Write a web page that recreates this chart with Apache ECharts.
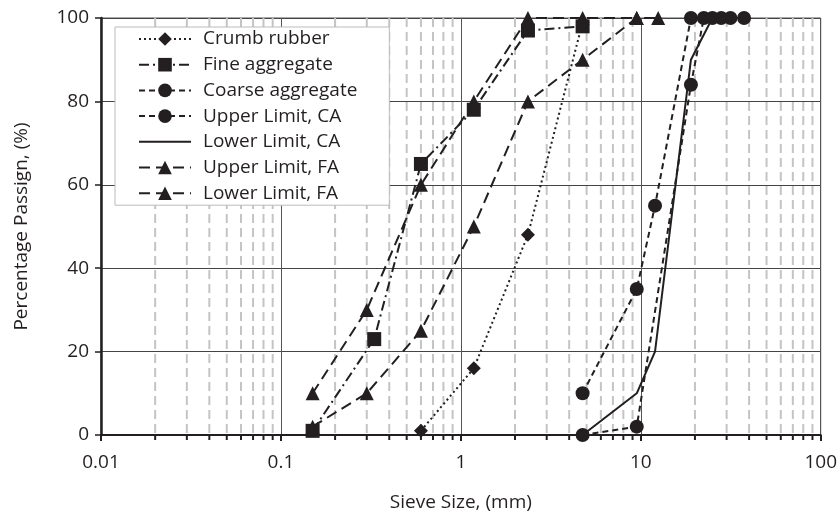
<!DOCTYPE html>
<html>
<head>
<meta charset="utf-8">
<script src="https://cdn.jsdelivr.net/npm/echarts@6/dist/echarts.min.js"></script>
<style>html,body{margin:0;padding:0;background:#fff}#c{width:840px;height:517px}</style>
</head>
<body>
<div id="c"></div>
<script>
// ---- data ----
const xTickLabels = ['0.01', '0.1', '1', '10', '100'];
const yTicks = [0, 20, 40, 60, 80, 100];
const minorSieve = [0.02,0.03,0.04,0.05,0.06,0.07,0.08,0.09,0.2,0.3,0.4,0.5,0.6,0.7,0.8,0.9,2,3,4,5,6,7,8,9,20,30,40,50,60,70,80,90];

const crumbSize = [0.6, 1.18, 2.36, 4.75];
const crumbPass = [1, 16, 48, 99];

const fineSize = [0.15, 0.33, 0.6, 1.18, 2.36, 4.75];
const finePass = [1, 23, 65, 78, 97, 98];

const coarseSize = [4.75, 9.5, 19, 22.4, 28, 37.5];
const coarsePass = [0, 2, 84, 100, 100, 100];

const upperCASize = [4.75, 9.5, 12, 19, 25, 31.5];
const upperCAPass = [10, 35, 55, 100, 100, 100];

const lowerCASize = [4.75, 9.5, 12, 19, 25];
const lowerCAPass = [0, 10, 20, 90, 100];

const upperFASize = [0.15, 0.3, 0.6, 1.18, 2.36, 4.75, 9.5];
const upperFAPass = [10, 30, 60, 80, 100, 100, 100];

const lowerFASize = [0.15, 0.3, 0.6, 1.18, 2.36, 4.75, 9.5, 12.5];
const lowerFAPass = [2, 10, 25, 50, 80, 90, 100, 100];

const seriesNames = ['Crumb rubber', 'Fine aggregate', 'Coarse aggregate', 'Upper Limit, CA', 'Lower Limit, CA', 'Upper Limit, FA', 'Lower Limit, FA'];

// ---- chart ----
const zip = (a, b) => a.map((v, i) => [v, b[i]]);
const INK = '#231f20';
const FONT = 'Open Sans';
const FS = 19;

function lineSeries(name, xs, ys, dash, symbol, size) {
  return {
    name, type: 'line', data: zip(xs, ys),
    symbol: symbol || 'none', symbolSize: size || 12,
    itemStyle: { color: INK },
    lineStyle: { color: INK, width: 2, type: dash },
    z: 3, silent: true, clip: false
  };
}

const legendData = seriesNames.map(n => n === 'Lower Limit, CA'
  ? { name: n, itemStyle: { color: 'rgba(0,0,0,0)', opacity: 0, borderWidth: 0 } }
  : { name: n });

const chart = echarts.init(document.getElementById('c'), null, { renderer: 'canvas' });
chart.setOption({
  animation: false,
  backgroundColor: '#fff',
  grid: { left: 101, right: 18, top: 18, bottom: 82, show: true, borderColor: '#555', borderWidth: 1 },
  xAxis: {
    type: 'log', logBase: 10, min: 0.01, max: 100,
    name: 'Sieve Size, (mm)', nameLocation: 'middle', nameGap: 58,
    nameTextStyle: { fontFamily: FONT, fontSize: FS, color: INK },
    axisLine: { onZero: false, lineStyle: { color: INK, width: 2 } },
    axisTick: { show: true, length: 6, lineStyle: { color: INK, width: 2 } },
    axisLabel: { margin: 18, fontFamily: FONT, fontSize: FS, color: INK,
      formatter: (v, i) => xTickLabels[i] },
    splitLine: { show: true, lineStyle: { color: '#555', width: 1 } }
  },
  yAxis: {
    type: 'value', min: 0, max: 100, interval: 20,
    name: 'Percentage Passign, (%)', nameLocation: 'middle', nameGap: 70,
    nameTextStyle: { fontFamily: FONT, fontSize: FS, color: INK },
    axisLine: { show: true, lineStyle: { color: INK, width: 2.5 } },
    axisTick: { show: true, length: 6, lineStyle: { color: INK, width: 1.5 } },
    axisLabel: { margin: 12, fontFamily: FONT, fontSize: FS, color: INK,
      formatter: v => String(yTicks[yTicks.indexOf(v)]) },
    splitLine: { show: true, lineStyle: { color: '#444', width: 1 } }
  },
  legend: {
    data: legendData,
    orient: 'vertical', left: 115, top: 27,
    backgroundColor: '#fff', borderColor: '#bbb', borderWidth: 1,
    padding: [1, 32, 1, 23],
    itemWidth: 52, itemHeight: 17, itemGap: 3.7,
    textStyle: { fontFamily: FONT, fontSize: FS, color: INK, lineHeight: 22, padding: [0, 0, 0, 7] },
    z: 10
  },
  series: [
    {
      type: 'custom', name: 'minor', silent: true, z: 1, clip: false,
      data: minorSieve.map(v => [v, 0]),
      encode: { x: 0, y: 1 },
      renderItem: (params, api) => {
        const v = api.value(0);
        const b = api.coord([v, 0]);
        const t = api.coord([v, 100]);
        return {
          type: 'group',
          children: [
            { type: 'line', shape: { x1: b[0], y1: t[1], x2: b[0], y2: b[1] },
              style: { stroke: '#c4c4c4', lineWidth: 2, lineDash: [9, 5] } },
            { type: 'line', shape: { x1: b[0], y1: b[1], x2: b[0], y2: b[1] + 5 },
              style: { stroke: INK, lineWidth: 2 } }
          ]
        };
      }
    },
    lineSeries(seriesNames[0], crumbSize, crumbPass, [2, 3], 'diamond', [14, 14]),
    lineSeries(seriesNames[1], fineSize, finePass, [10, 4, 2, 4], 'rect', 14),
    lineSeries(seriesNames[2], coarseSize, coarsePass, [6, 4], 'circle', 14),
    lineSeries(seriesNames[3], upperCASize, upperCAPass, [6, 4], 'circle', 14),
    lineSeries(seriesNames[4], lowerCASize, lowerCAPass, 'solid', 'none'),
    lineSeries(seriesNames[5], upperFASize, upperFAPass, [11, 6], 'triangle', 14),
    lineSeries(seriesNames[6], lowerFASize, lowerFAPass, [11, 6], 'triangle', 14)
  ]
});
</script>
</body>
</html>
